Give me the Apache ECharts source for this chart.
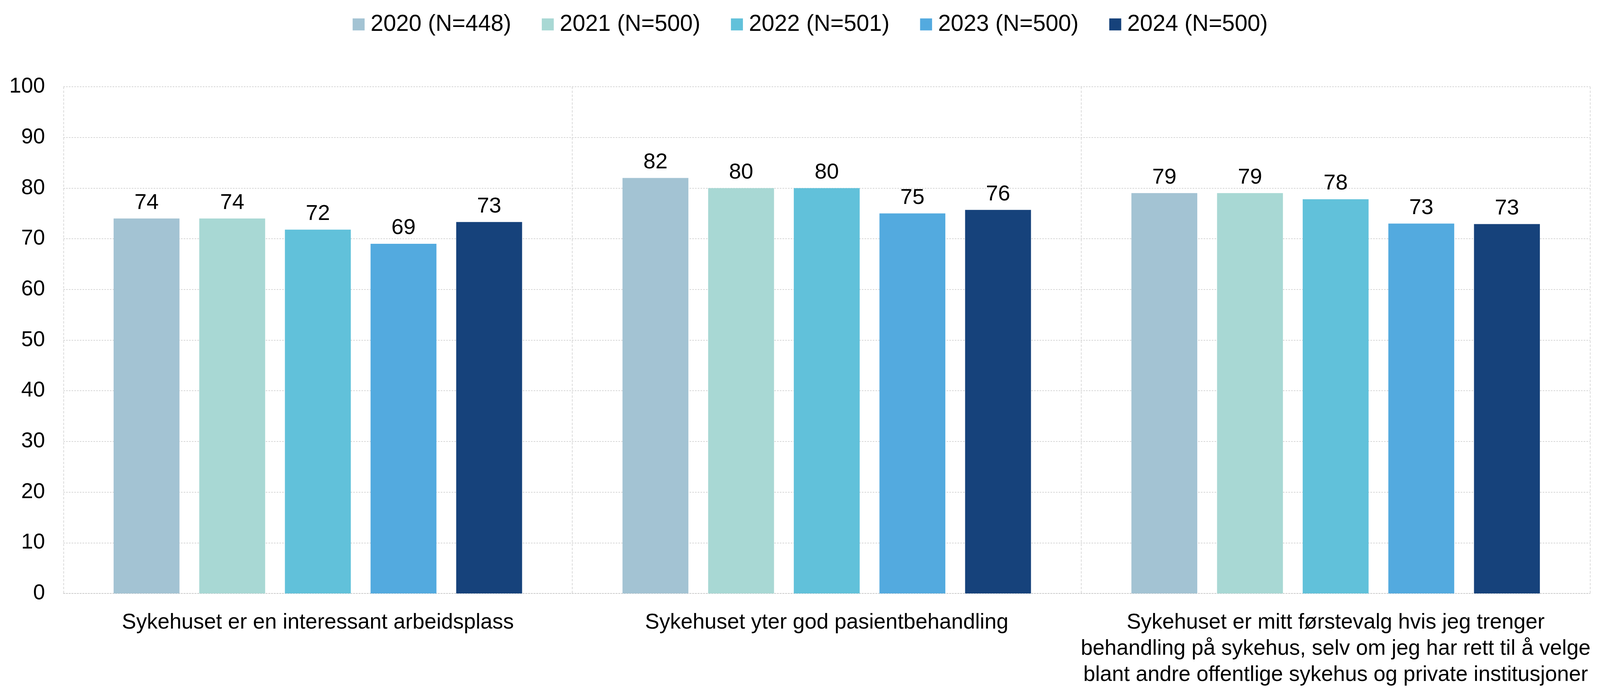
<!DOCTYPE html>
<html>
<head>
<meta charset="utf-8">
<script src="https://cdn.jsdelivr.net/npm/echarts@6/dist/echarts.min.js"></script>
<style>
html,body{margin:0;padding:0;background:#fff;overflow:hidden;}
#chart{position:absolute;left:0;top:0;}
</style>
</head>
<body>
<div id="chart"></div>
<script>
var categories = [
  'Sykehuset er en interessant arbeidsplass',
  'Sykehuset yter god pasientbehandling',
  'Sykehuset er mitt førstevalg hvis jeg trenger\nbehandling på sykehus, selv om jeg har rett til å velge\nblant andre offentlige sykehus og private institusjoner'
];
var seriesNames = ['2020 (N=448)', '2021 (N=500)', '2022 (N=501)', '2023 (N=500)', '2024 (N=500)'];
var v2020 = [74, 82, 79];
var v2021 = [74, 80, 79];
var v2022 = [71.8, 80, 77.8];
var v2023 = [69, 75, 73];
var v2024 = [73.3, 75.7, 72.9];
var yTicks = [0, 10, 20, 30, 40, 50, 60, 70, 80, 90, 100];

var colors = ['#A3C3D3', '#A8D8D4', '#61C1DA', '#53AADF', '#16427B'];
var values = [v2020, v2021, v2022, v2023, v2024];
var FONT = "'Liberation Sans', Arial, sans-serif";

// map the 4517x1761 reference layout onto the actual viewport
var W = window.innerWidth || 4517, H = window.innerHeight || 1761;
var SX = W / 4517, SY = H / 1761;
var FS = SX + (SY - SX) * 0.25;
function x(v) { return v * SX; }
function y(v) { return v * SY; }
function f(v) { return v * FS; }

var el = document.getElementById('chart');
el.style.width = W + 'px';
el.style.height = H + 'px';

// legend spacing: icons every 534 reference px
var legendFont = f(63);
var ctx = document.createElement('canvas').getContext('2d');
ctx.font = legendFont + 'px ' + FONT;
var legendTextW = ctx.measureText(seriesNames[0]).width;
var iconW = f(33);
var textPad = Math.max(0, x(17) - 5);
var legendGap = x(534) - (iconW + 5 + textPad + legendTextW);

var chart = echarts.init(el, null, {renderer: 'canvas'});
var series = seriesNames.map(function (name, i) {
  return {
    name: name,
    type: 'bar',
    data: values[i],
    barWidth: x(186),
    barGap: '30%',
    itemStyle: {color: colors[i]},
    label: {
      show: true,
      position: 'top',
      distance: y(12),
      color: '#000',
      fontFamily: FONT,
      fontSize: f(60),
      formatter: function (p) { return Math.round(p.value); }
    }
  };
});

chart.setOption({
  animation: false,
  backgroundColor: '#fff',
  color: colors,
  legend: {
    left: x(990),
    top: y(28),
    icon: 'rect',
    itemWidth: iconW,
    itemHeight: f(33),
    itemGap: legendGap,
    textStyle: {fontFamily: FONT, fontSize: legendFont, color: '#000', padding: [0, 0, 0, textPad]},
    data: seriesNames
  },
  grid: {left: x(179), right: W - x(4489), top: y(222), bottom: H - y(1526), containLabel: false},
  xAxis: {
    type: 'category',
    data: categories,
    axisLine: {show: true, lineStyle: {color: '#c8c8c8', width: 1.5, type: [4, 3]}},
    axisTick: {show: false},
    splitLine: {show: true, lineStyle: {color: '#d0d0d0', width: 1.5, type: [6, 4]}},
    axisLabel: {
      interval: 0,
      margin: y(41),
      color: '#000',
      fontFamily: FONT,
      fontSize: f(59),
      lineHeight: y(67),
      align: 'center'
    }
  },
  yAxis: {
    type: 'value',
    min: yTicks[0],
    max: yTicks[yTicks.length - 1],
    interval: yTicks[1] - yTicks[0],
    axisLine: {show: false},
    axisTick: {show: false},
    splitLine: {show: true, lineStyle: {color: '#c8c8c8', width: 1.5, type: [4, 3]}},
    axisLabel: {margin: x(52), color: '#000', fontFamily: FONT, fontSize: f(59)}
  },
  series: series
});
</script>
</body>
</html>
